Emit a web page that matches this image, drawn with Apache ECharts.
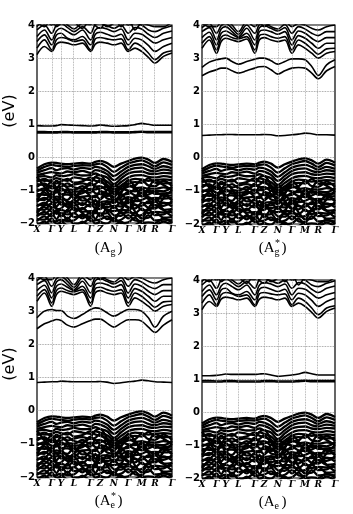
<!DOCTYPE html>
<html>
<head>
<meta charset="utf-8">
<script src="https://cdn.jsdelivr.net/npm/echarts@6/dist/echarts.min.js"></script>
<style>
  html, body { margin: 0; padding: 0; background: #fff; }
  #chart { width: 353px; height: 514px; }
</style>
</head>
<body>
<div id="chart"></div>
<script>
// k-path: high symmetry points and their positions along the path
const kNames = ['X', 'Γ', 'Y', 'L', 'Γ', 'Z', 'N', 'Γ', 'M', 'R', 'Γ'];
const kPos = [0, 0.109, 0.178, 0.274, 0.397, 0.467, 0.570, 0.676, 0.775, 0.874, 1];
// sampling grid: high symmetry points plus the midpoints between them
const kGrid = [0, 0.055, 0.109, 0.144, 0.178, 0.226, 0.274, 0.336, 0.397, 0.432, 0.467,
  0.519, 0.570, 0.623, 0.676, 0.726, 0.775, 0.825, 0.874, 0.937, 1];

// valence bands (close to the same in all four cases)
const valence = [
  [-0.35,-0.22,-0.17,-0.18,-0.20,-0.22,-0.20,-0.18,-0.20,-0.15,-0.12,-0.18,-0.30,-0.20,-0.12,-0.05,-0.02,-0.08,-0.18,-0.06,-0.15],
  [-0.42,-0.30,-0.24,-0.26,-0.28,-0.30,-0.27,-0.25,-0.26,-0.22,-0.20,-0.30,-0.45,-0.32,-0.20,-0.14,-0.10,-0.18,-0.28,-0.16,-0.24],
  [-0.48,-0.40,-0.34,-0.40,-0.36,-0.34,-0.38,-0.33,-0.36,-0.30,-0.32,-0.42,-0.58,-0.44,-0.30,-0.24,-0.22,-0.28,-0.36,-0.28,-0.34],
  [-0.55,-0.50,-0.46,-0.48,-0.50,-0.44,-0.46,-0.42,-0.48,-0.40,-0.42,-0.52,-0.70,-0.55,-0.40,-0.34,-0.32,-0.40,-0.44,-0.38,-0.42],
  [-0.60,-0.58,-0.62,-0.55,-0.58,-0.56,-0.52,-0.56,-0.55,-0.50,-0.55,-0.62,-0.82,-0.65,-0.50,-0.45,-0.44,-0.50,-0.52,-0.48,-0.50],
  [-0.68,-0.72,-0.70,-0.64,-0.68,-0.72,-0.62,-0.66,-0.70,-0.62,-0.66,-0.74,-0.90,-0.76,-0.62,-0.56,-0.55,-0.60,-0.62,-0.58,-0.62],
  [-0.75,-0.66,-0.78,-0.80,-0.74,-0.66,-0.78,-0.74,-0.62,-0.72,-0.76,-0.84,-0.98,-0.86,-0.72,-0.66,-0.68,-0.72,-0.70,-0.68,-0.70],
  [-0.82,-0.85,-0.88,-0.72,-0.82,-0.90,-0.84,-0.80,-0.86,-0.82,-0.70,-0.92,-1.05,-0.92,-0.80,-0.76,-0.78,-0.64,-0.78,-0.80,-0.78],
  [-0.90,-0.80,-0.95,-0.92,-0.90,-0.80,-0.92,-0.96,-0.78,-0.90,-0.88,-1.00,-0.82,-0.98,-0.90,-0.86,-0.70,-0.86,-0.88,-0.72,-0.88],
  [-0.98,-1.02,-0.86,-1.00,-1.02,-0.98,-1.00,-0.88,-1.00,-0.98,-0.95,-0.90,-1.12,-1.05,-0.84,-0.95,-0.92,-0.96,-0.96,-0.92,-0.98],
  [-1.05,-0.95,-1.06,-1.08,-0.94,-1.08,-1.06,-1.04,-1.08,-0.88,-1.02,-1.10,-1.20,-0.96,-1.02,-1.04,-1.00,-1.06,-1.02,-1.04,-0.90],
  [-1.12,-1.15,-1.14,-0.98,-1.12,-1.14,-1.16,-1.10,-0.96,-1.10,-1.12,-1.18,-1.04,-1.14,-1.12,-0.98,-1.10,-1.00,-1.12,-1.10,-1.08],
  [-1.20,-1.08,-1.24,-1.20,-1.22,-1.00,-1.24,-1.20,-1.18,-1.22,-1.04,-1.26,-1.30,-1.22,-1.06,-1.16,-1.18,-1.14,-1.06,-1.18,-1.16],
  [-1.28,-1.30,-1.10,-1.30,-1.28,-1.30,-1.10,-1.32,-1.28,-1.16,-1.28,-1.14,-1.24,-1.30,-1.22,-1.26,-1.08,-1.26,-1.24,-1.26,-1.24],
  [-1.36,-1.24,-1.36,-1.38,-1.20,-1.36,-1.38,-1.22,-1.38,-1.34,-1.36,-1.34,-1.40,-1.14,-1.32,-1.34,-1.30,-1.22,-1.34,-1.14,-1.32],
  [-1.44,-1.46,-1.42,-1.26,-1.44,-1.44,-1.30,-1.46,-1.24,-1.44,-1.42,-1.44,-1.30,-1.42,-1.40,-1.20,-1.38,-1.40,-1.30,-1.40,-1.40],
  [-1.50,-1.38,-1.52,-1.50,-1.36,-1.52,-1.48,-1.40,-1.50,-1.30,-1.50,-1.52,-1.48,-1.50,-1.26,-1.46,-1.48,-1.34,-1.46,-1.48,-1.34],
  [-1.58,-1.60,-1.40,-1.58,-1.56,-1.38,-1.60,-1.58,-1.42,-1.56,-1.58,-1.36,-1.55,-1.36,-1.52,-1.56,-1.40,-1.54,-1.56,-1.38,-1.50],
  [-1.66,-1.52,-1.66,-1.68,-1.60,-1.66,-1.54,-1.66,-1.64,-1.66,-1.44,-1.62,-1.64,-1.60,-1.62,-1.44,-1.60,-1.62,-1.46,-1.60,-1.58],
  [-1.72,-1.74,-1.56,-1.72,-1.70,-1.74,-1.70,-1.54,-1.72,-1.70,-1.72,-1.70,-1.48,-1.70,-1.68,-1.70,-1.56,-1.70,-1.66,-1.68,-1.66],
  [-1.80,-1.66,-1.80,-1.62,-1.80,-1.60,-1.82,-1.78,-1.80,-1.60,-1.80,-1.58,-1.76,-1.78,-1.60,-1.78,-1.76,-1.58,-1.76,-1.74,-1.56],
  [-1.88,-1.90,-1.72,-1.88,-1.70,-1.88,-1.70,-1.86,-1.66,-1.88,-1.70,-1.88,-1.84,-1.66,-1.86,-1.70,-1.86,-1.84,-1.66,-1.84,-1.82],
  [-1.94,-1.80,-1.96,-1.94,-1.90,-1.94,-1.92,-1.74,-1.94,-1.92,-1.90,-1.80,-1.94,-1.90,-1.76,-1.92,-1.94,-1.76,-1.92,-1.90,-1.92],
  [-2.02,-2.04,-1.86,-2.02,-2.00,-1.84,-2.02,-2.00,-1.86,-2.02,-1.98,-2.02,-1.86,-2.00,-1.98,-1.84,-2.00,-1.98,-2.00,-1.86,-2.00],
  [-2.10,-1.96,-2.10,-2.10,-1.96,-2.08,-2.10,-1.96,-2.10,-2.06,-1.96,-2.10,-2.08,-1.96,-2.10,-2.06,-1.96,-2.10,-2.08,-1.96,-2.08],
  [-0.60,-0.90,-1.20,-1.00,-0.80,-0.95,-1.25,-1.00,-0.80,-0.60,-0.55,-0.85,-1.35,-1.10,-0.70,-0.90,-1.20,-0.95,-0.70,-0.85,-1.00],
  [-1.30,-1.00,-0.75,-0.95,-1.25,-1.50,-1.30,-1.00,-1.20,-1.45,-1.30,-1.00,-0.95,-1.30,-1.55,-1.30,-0.95,-1.25,-1.55,-1.25,-1.00],
  [-1.70,-1.45,-1.25,-1.55,-1.80,-1.60,-1.40,-1.70,-1.85,-1.55,-1.40,-1.65,-1.90,-1.60,-1.35,-1.65,-1.85,-1.55,-1.35,-1.60,-1.80]
];

// conduction bands for A_g and A_e
const condA = [
  [3.10,3.35,3.20,3.42,3.48,3.45,3.40,3.45,3.20,3.42,3.48,3.45,3.40,3.45,3.20,3.30,3.20,3.02,2.85,3.05,3.15],
  [3.30,3.55,3.25,3.55,3.62,3.58,3.50,3.55,3.25,3.58,3.62,3.58,3.55,3.58,3.25,3.45,3.35,3.15,2.95,3.15,3.22],
  [3.50,3.70,3.40,3.70,3.75,3.60,3.55,3.65,3.40,3.72,3.78,3.72,3.65,3.72,3.40,3.60,3.55,3.38,3.20,3.35,3.45],
  [3.65,3.85,3.55,3.82,3.90,3.80,3.70,3.85,3.55,3.85,3.92,3.88,3.80,3.88,3.55,3.75,3.72,3.58,3.45,3.55,3.62],
  [3.85,4.00,3.75,4.00,4.05,3.92,3.80,3.95,3.75,4.02,4.05,3.98,3.90,4.00,3.75,3.92,3.88,3.72,3.62,3.75,3.82],
  [3.95,4.15,4.00,4.10,4.15,4.00,3.88,4.05,4.02,4.15,4.10,3.95,4.05,4.15,4.00,4.05,4.00,3.85,3.80,3.90,3.98],
  [4.10,3.95,4.20,3.95,4.05,4.20,4.10,3.90,4.20,3.98,3.90,4.15,4.20,3.95,4.20,3.85,4.05,4.00,3.95,3.95,4.10]
];

// conduction bands for the starred cases
const condB = [
  [3.30,3.55,3.15,3.50,3.60,3.55,3.50,3.58,3.15,3.55,3.62,3.55,3.50,3.55,3.15,3.40,3.30,3.15,3.00,3.15,3.20],
  [3.45,3.65,3.25,3.62,3.70,3.62,3.58,3.65,3.25,3.68,3.72,3.65,3.60,3.65,3.25,3.55,3.45,3.28,3.12,3.28,3.30],
  [3.62,3.78,3.40,3.75,3.82,3.72,3.62,3.75,3.40,3.80,3.85,3.80,3.72,3.80,3.40,3.68,3.60,3.45,3.30,3.45,3.45],
  [3.80,3.92,3.55,3.88,3.95,3.80,3.65,3.90,3.55,3.92,3.98,3.90,3.82,3.92,3.55,3.82,3.75,3.60,3.50,3.62,3.62],
  [3.92,4.05,3.75,3.98,4.05,3.90,3.72,4.00,3.75,4.02,4.05,3.95,3.88,4.02,3.75,3.95,3.88,3.75,3.68,3.80,3.80],
  [4.05,3.95,3.95,4.10,4.15,4.00,3.80,4.10,3.95,4.10,3.95,4.05,4.10,4.10,3.95,4.05,4.00,3.90,3.85,3.95,4.00]
];

// the two low conduction bands of A*_g and A*_e
const lowAgs = [
  [2.47,2.58,2.65,2.70,2.70,2.62,2.55,2.62,2.70,2.74,2.75,2.65,2.52,2.62,2.70,2.72,2.70,2.55,2.38,2.62,2.75],
  [2.72,2.88,2.95,2.98,3.00,2.90,2.82,2.90,2.97,3.00,3.00,2.92,2.82,2.90,2.98,2.98,2.95,2.75,2.48,2.80,2.95]
];
const lowAes = [
  [2.47,2.62,2.70,2.75,2.72,2.58,2.52,2.62,2.72,2.76,2.76,2.64,2.52,2.64,2.74,2.74,2.70,2.52,2.36,2.58,2.74],
  [2.80,3.00,3.05,3.02,3.02,2.85,2.78,2.90,3.05,3.10,3.08,2.95,2.85,2.95,3.05,3.05,3.00,2.80,2.52,2.85,3.00]
];

// gap states
const gapAg = [
  [0.73,0.73,0.73,0.73,0.74,0.74,0.73,0.73,0.73,0.73,0.74,0.74,0.73,0.73,0.73,0.74,0.75,0.74,0.74,0.74,0.74],
  [0.77,0.77,0.76,0.76,0.77,0.77,0.76,0.76,0.76,0.76,0.77,0.77,0.76,0.76,0.76,0.77,0.78,0.77,0.77,0.77,0.77],
  [0.95,0.94,0.94,0.95,0.98,0.97,0.96,0.95,0.94,0.95,0.97,0.95,0.93,0.94,0.95,0.98,1.02,0.99,0.96,0.96,0.96]
];
const gapAgs = [
  [0.67,0.68,0.69,0.69,0.70,0.70,0.69,0.69,0.69,0.69,0.70,0.69,0.66,0.67,0.69,0.71,0.74,0.72,0.69,0.69,0.68]
];
const gapAes = [
  [0.85,0.86,0.87,0.87,0.89,0.88,0.87,0.87,0.87,0.87,0.88,0.86,0.82,0.84,0.87,0.89,0.92,0.90,0.87,0.86,0.85]
];
const gapAe = [
  [0.91,0.91,0.91,0.91,0.92,0.92,0.91,0.91,0.91,0.91,0.92,0.92,0.91,0.91,0.91,0.92,0.93,0.92,0.92,0.92,0.92],
  [0.95,0.95,0.94,0.94,0.95,0.95,0.94,0.94,0.94,0.94,0.95,0.95,0.94,0.94,0.94,0.95,0.96,0.95,0.95,0.95,0.95],
  [1.10,1.10,1.11,1.13,1.15,1.14,1.14,1.14,1.14,1.15,1.16,1.12,1.08,1.10,1.12,1.15,1.20,1.16,1.12,1.12,1.12]
];

const panels = [
  { bands: [].concat(valence, condA, gapAg), sup: '', grid: { left: 37, top: 25, width: 135, height: 198 }, cap: [109.5, 248] },
  { bands: [].concat(valence, condB, lowAgs, gapAgs), sup: '*', grid: { left: 202, top: 25, width: 133, height: 199 }, cap: [273.5, 248] },
  { bands: [].concat(valence, condB, lowAes, gapAes), sup: '*', sub: 'e', grid: { left: 37, top: 278, width: 135, height: 199 }, cap: [109.5, 501] },
  { bands: [].concat(valence, condA, gapAe), sup: '', sub: 'e', grid: { left: 202, top: 280, width: 133, height: 198 }, cap: [273.5, 502] }
];

function kLabel(v) {
  let best = 0;
  kPos.forEach((p, j) => { if (Math.abs(p - v) < Math.abs(kPos[best] - v)) best = j; });
  return kNames[best];
}

const grids = [], xAxes = [], yAxes = [], series = [], graphics = [];

panels.forEach((p, i) => {
  grids.push(Object.assign({ show: true, borderColor: '#000', borderWidth: 1.2, backgroundColor: 'transparent' }, p.grid));

  xAxes.push({
    type: 'value', gridIndex: i, min: 0, max: 1,
    axisLine: { show: false }, axisTick: { show: false }, splitLine: { show: false },
    axisLabel: {
      customValues: kPos,
      formatter: v => kLabel(v),
      margin: 2, color: '#000', fontSize: 9, fontStyle: 'italic', fontWeight: 'bold',
      fontFamily: 'DejaVu Serif'
    }
  });

  yAxes.push({
    type: 'value', gridIndex: i, min: -2, max: 4, interval: 1,
    axisLine: { show: false }, axisTick: { show: false },
    splitLine: { show: true, lineStyle: { type: 'dotted', color: '#888', width: 0.8 } },
    axisLabel: {
      margin: 2, color: '#000', fontSize: 10, fontWeight: 'bold', fontFamily: 'DejaVu Sans',
      formatter: v => String(v).replace('-', '\u2212')
    }
  });

  // vertical dotted lines at the high symmetry points
  series.push({
    type: 'line', xAxisIndex: i, yAxisIndex: i, data: [], silent: true, z: 1,
    markLine: {
      silent: true, symbol: 'none', animation: false, label: { show: false },
      lineStyle: { type: 'dotted', color: '#999', width: 0.8 },
      data: kPos.slice(1, -1).map(v => ({ xAxis: v }))
    }
  });

  p.bands.forEach(b => {
    const low = b[0] < 0.5;
    series.push({
      type: 'line', xAxisIndex: i, yAxisIndex: i, z: 3,
      data: kGrid.map((k, j) => [k, b[j]]),
      smooth: 0.35, showSymbol: false, silent: true, clip: true,
      lineStyle: { color: '#000', width: low ? 2.3 : 1.6 }
    });
  });

  // caption under each panel, e.g. (A*g)
  const [cx, cy] = p.cap;
  const sub = p.sub || 'g';
  graphics.push(
    { type: 'text', x: cx + 1, y: cy, style: { text: '(A', fontSize: 15, fontFamily: 'Liberation Serif', fill: '#000', align: 'right', verticalAlign: 'middle' } },
    { type: 'text', x: cx + 1, y: cy + 4, style: { text: sub, fontSize: 10, fontFamily: 'Liberation Serif', fill: '#000', align: 'left', verticalAlign: 'middle' } },
    { type: 'text', x: cx + 8, y: cy, style: { text: ')', fontSize: 15, fontFamily: 'Liberation Serif', fill: '#000', align: 'left', verticalAlign: 'middle' } }
  );
  if (p.sup) {
    graphics.push({ type: 'text', x: cx + 1.5, y: cy - 5, style: { text: p.sup, fontSize: 10, fontFamily: 'Liberation Serif', fill: '#000', align: 'left', verticalAlign: 'middle' } });
  }
});

// axis titles on the left column
[111, 364].forEach(y => {
  graphics.push({
    type: 'text', x: 10, y: y, rotation: Math.PI / 2,
    style: { text: '(eV)', fontSize: 16, fontFamily: 'DejaVu Sans', fill: '#000', align: 'center', verticalAlign: 'middle' }
  });
});

const chart = echarts.init(document.getElementById('chart'), null, { renderer: 'canvas' });
chart.setOption({
  animation: false,
  backgroundColor: '#fff',
  grid: grids,
  xAxis: xAxes,
  yAxis: yAxes,
  series: series,
  graphic: graphics
});
</script>
</body>
</html>
